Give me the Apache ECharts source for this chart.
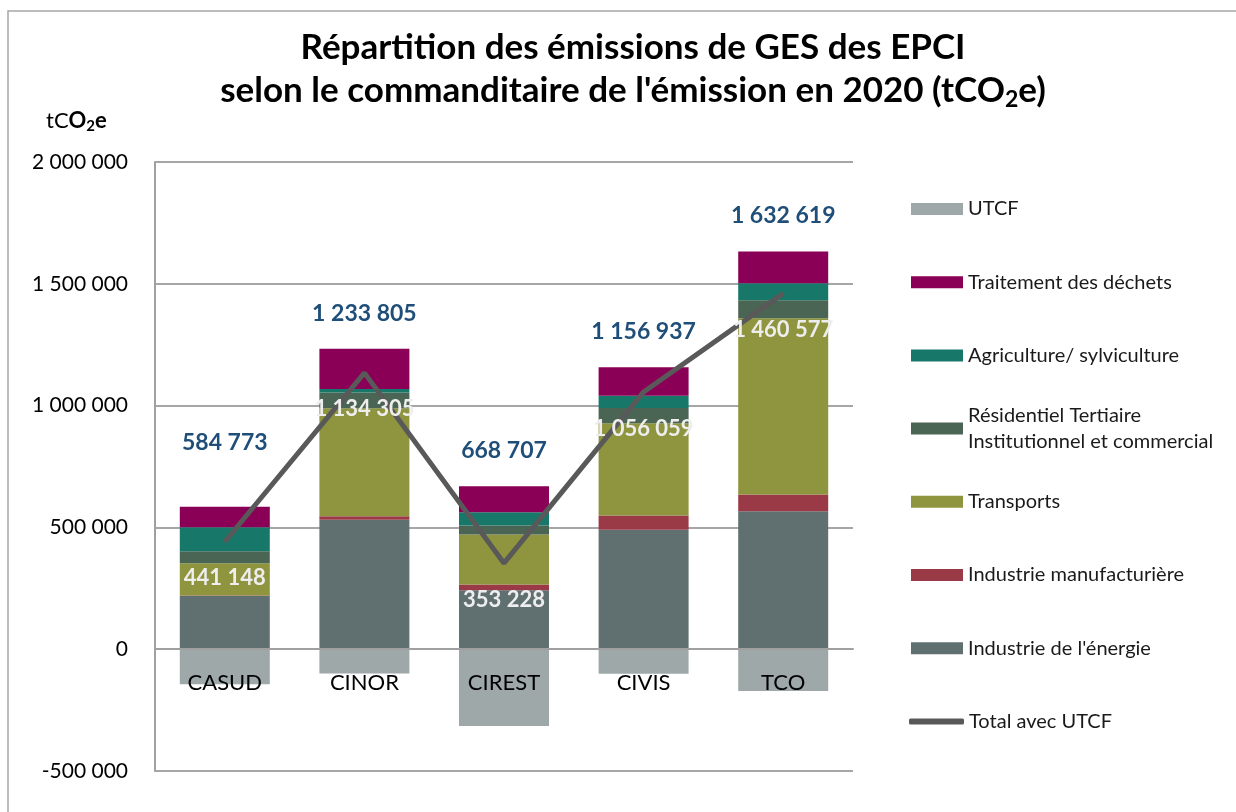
<!DOCTYPE html>
<html>
<head>
<meta charset="utf-8">
<title>Répartition des émissions de GES des EPCI</title>
<script src="https://cdn.jsdelivr.net/npm/echarts@6/dist/echarts.min.js"></script>
<style>
  html, body { margin: 0; padding: 0; background: #fff; }
  #chart { width: 1236px; height: 812px; }
</style>
</head>
<body>
<div id="chart"></div>
<script>
// EPCI de La Réunion
const categories = ['CASUD', 'CINOR', 'CIREST', 'CIVIS', 'TCO'];

// secteurs (tCO2e), du bas vers le haut de la pile
const energie = [218000, 531000, 241600, 490000, 566700];
const manufacturiere = [2000, 15000, 24400, 59000, 68300];
const transports = [133000, 443000, 205000, 379000, 724000];
const residentiel = [49000, 65000, 37000, 62000, 73000];
const agriculture = [99000, 14000, 54000, 50000, 70000];
const dechets = [83773, 165805, 106707, 116937, 130619];
const utcf = [-143625, -99500, -315479, -100878, -172042];

// totaux affichés
const totalSansUtcf = [584773, 1233805, 668707, 1156937, 1632619];
const totalAvecUtcf = [441148, 1134305, 353228, 1056059, 1460577];

// graduations de l'axe
const yTicks = [-500000, 0, 500000, 1000000, 1500000, 2000000];

const FONT = 'Lato';

function fmt(v) {
    return String(v).replace(/\B(?=(\d{3})+(?!\d))/g, ' ');
}

var seriesDefs = [
    {name: "Industrie de l'énergie", data: energie, color: '#607070'},
    {name: 'Industrie manufacturière', data: manufacturiere, color: '#9a3a46'},
    {name: 'Transports', data: transports, color: '#8f943e'},
    {name: 'Résidentiel Tertiaire\nInstitutionnel et commercial', data: residentiel, color: '#4a6554'},
    {name: 'Agriculture/ sylviculture', data: agriculture, color: '#17786a'},
    {name: 'Traitement des déchets', data: dechets, color: '#8a0057'},
    {name: 'UTCF', data: utcf, color: '#9fa8a8'}
];

var series = seriesDefs.map(function (d) {
    var s = {
        name: d.name,
        type: 'bar',
        stack: 'ges',
        barWidth: 90,
        data: d.data,
        itemStyle: {color: d.color},
        emphasis: {disabled: true}
    };
    if (d.data === dechets) {
        // total sans UTCF au-dessus de la pile
        s.data = d.data.map(function (v, i) {
            return i === 0 ? {value: v, label: {distance: 53}} : v;
        });
        s.label = {
            show: true,
            position: 'top',
            distance: 24,
            fontFamily: FONT,
            fontSize: 23,
            fontWeight: 'bold',
            color: '#1f4e79',
            formatter: function (p) { return fmt(totalSansUtcf[p.dataIndex]); }
        };
    }
    return s;
});

series.push({
    name: 'Total avec UTCF',
    type: 'line',
    data: totalAvecUtcf,
    symbol: 'circle',
    symbolSize: 1,
    z: 5,
    lineStyle: {color: '#595959', width: 5},
    itemStyle: {color: '#595959'},
    label: {
        show: true,
        position: 'bottom',
        distance: 25,
        fontFamily: FONT,
        fontSize: 22,
        fontWeight: 'bold',
        color: '#eeeeee',
        formatter: function (p) { return fmt(p.value); }
    },
    emphasis: {disabled: true}
});

// légende : une entrée par ligne, espacées comme dans l'original
var legendOrder = [
    'UTCF',
    'Traitement des déchets',
    'Agriculture/ sylviculture',
    'Résidentiel Tertiaire\nInstitutionnel et commercial',
    'Transports',
    'Industrie manufacturière',
    "Industrie de l'énergie",
    'Total avec UTCF'
];

var legends = legendOrder.map(function (name, i) {
    var cy = 209 + i * 73.2;
    var twoLines = name.indexOf('\n') >= 0;
    var isLine = name === 'Total avec UTCF';
    var textStyle = {
        fontFamily: FONT,
        fontSize: 20,
        color: '#1a1a1a',
        lineHeight: twoLines ? 26 : 22
    };
    if (twoLines) textStyle.padding = [26, 0, 0, 0];
    return {
        show: true,
        left: isLine ? 909 : 911,
        top: cy - (twoLines ? 39 : 11),
        padding: 0,
        itemGap: 0,
        itemWidth: isLine ? 55 : 52,
        itemHeight: isLine ? 6 : 12,
        data: [{name: name, icon: isLine ? 'roundRect' : 'rect'}],
        textStyle: textStyle
    };
});

var chart = echarts.init(document.getElementById('chart'));

var option = {
    backgroundColor: '#ffffff',
    animation: false,
    title: [
        {
            text: 'Répartition des émissions de GES des EPCI\nselon le commanditaire de l\'émission en 2020 {t|(tCO}{sub|2}{t|e)}',
            left: 628,
            textAlign: 'center',
            top: 21,
            textStyle: {
                fontFamily: FONT,
                fontSize: 35,
                fontWeight: 'bold',
                color: '#000',
                lineHeight: 43,
                rich: {
                    t: {fontFamily: FONT, fontSize: 35, fontWeight: 'bold', color: '#000'},
                    sub: {fontFamily: FONT, fontSize: 23, fontWeight: 'bold', color: '#000', padding: [18, 0, 0, 0]}
                }
            }
        },
        {
            text: '{r|tC}{b|O}{s|2}{b|e}',
            left: 41,
            top: 103,
            textStyle: {
                rich: {
                    r: {fontFamily: FONT, fontSize: 22, fontWeight: 'normal', color: '#000'},
                    b: {fontFamily: FONT, fontSize: 22, fontWeight: 'bold', color: '#000'},
                    s: {fontFamily: FONT, fontSize: 15, fontWeight: 'bold', color: '#000', padding: [11, 0, 0, 0]}
                }
            }
        }
    ],
    graphic: [
        {
            type: 'rect',
            shape: {x: 8, y: 11, width: 1240, height: 820},
            style: {fill: 'none', stroke: '#a6a6a6', lineWidth: 1.5},
            silent: true
        }
    ],
    legend: legends,
    grid: {left: 155, right: 383, top: 162, bottom: 41},
    xAxis: {
        type: 'category',
        data: categories,
        z: 10,
        // l'axe des catégories croise à 0 (remonté depuis le bas de la grille)
        offset: -121.8,
        axisLine: {onZero: false, lineStyle: {color: '#a0a0a0', width: 2}},
        axisTick: {show: false},
        axisLabel: {
            margin: 23,
            fontFamily: FONT,
            fontSize: 22,
            color: '#000'
        }
    },
    yAxis: {
        type: 'value',
        min: yTicks[0],
        max: yTicks[yTicks.length - 1],
        interval: 500000,
        axisLine: {show: true, lineStyle: {color: '#a0a0a0', width: 2}},
        axisTick: {show: false},
        splitLine: {lineStyle: {color: '#a6a6a6', width: 2}},
        axisLabel: {
            margin: 27,
            fontFamily: FONT,
            fontSize: 21,
            color: '#000',
            formatter: function (v) { return fmt(v); }
        }
    },
    series: series
};

chart.setOption(option);
</script>
</body>
</html>
